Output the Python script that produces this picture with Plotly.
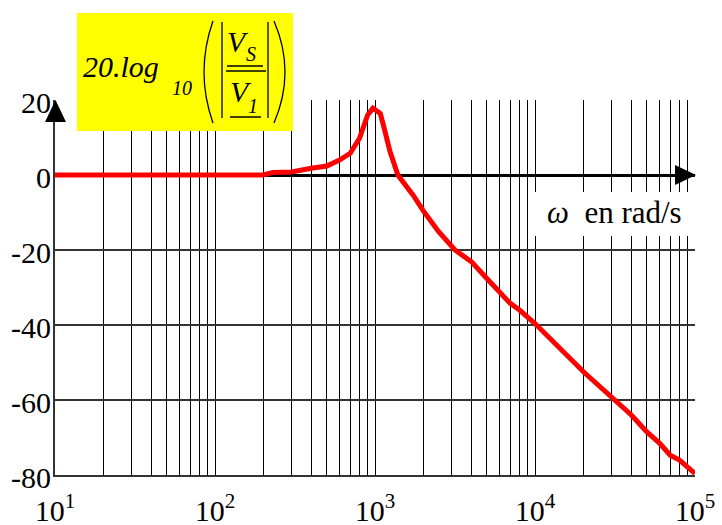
import plotly.graph_objects as go

# ---- data ----
omega = [10, 100, 200, 230, 300, 400, 500, 600, 700, 800, 900, 970, 1080, 1155,
         1240, 1390, 1740, 2000, 2500, 3160, 4000, 5000, 6000, 7000, 8000, 9000,
         10000, 20000, 30000, 40000, 50000, 60000, 70000, 80000, 100000]
gain_db = [0, 0, 0, 0.7, 0.8, 1.8, 2.4, 4.0, 5.8, 9.8, 16.0, 17.8, 16.4, 11.6,
           6.3, 0, -5.5, -9.5, -15.1, -20, -23.1, -27.6, -31.1, -34.2, -36, -37.8,
           -39.6, -52.4, -59, -64, -68.5, -71.5, -74.7, -76, -79.6]

x_grid = [m * 10 ** e for e in range(1, 5) for m in range(1, 10)] + [100000]
x_ticktext = ["10<sup>%d</sup>" % e if m == 1 else "" for e in range(1, 5) for m in range(1, 10)] + ["10<sup>5</sup>"]
y_ticks = [-80, -60, -40, -20, 0, 20]
y_ticktext = ["-80", "-60", "-40", "-20", "0", "20"]

W, H = 722, 525
L, R, T, B = 55, 695, 100, 475
FONT = "Liberation Serif"


def px(x):
    return (x - L) / (R - L)


def py(y):
    return (B - y) / (B - T)


fig = go.Figure()
fig.add_trace(go.Scatter(x=omega, y=gain_db, mode="lines",
                         line=dict(color="#ff0000", width=5), hoverinfo="skip"))

shapes = []
annotations = []

# yellow formula box
shapes.append(dict(type="rect", xref="paper", yref="paper", x0=px(77), x1=px(293),
                   y0=py(131), y1=py(13), fillcolor="#ffff00", line=dict(width=0), layer="above"))
# parentheses
shapes.append(dict(type="path", xref="paper", yref="paper",
                   path="M %f,%f Q %f,%f %f,%f" % (px(213), py(21), px(195), py(72), px(213), py(123)),
                   line=dict(color="black", width=1.3), layer="above"))
shapes.append(dict(type="path", xref="paper", yref="paper",
                   path="M %f,%f Q %f,%f %f,%f" % (px(274), py(21), px(296), py(72), px(274), py(123)),
                   line=dict(color="black", width=1.3), layer="above"))
# absolute value bars
for xb in (222, 268):
    shapes.append(dict(type="line", xref="paper", yref="paper", x0=px(xb), x1=px(xb),
                       y0=py(22), y1=py(118), line=dict(color="black", width=1.3), layer="above"))
# underline of V_S, fraction bar, underline of V_1
for (xa, xb, yy) in ((227, 263, 66), (226, 266, 71), (230, 261, 117)):
    shapes.append(dict(type="line", xref="paper", yref="paper", x0=px(xa), x1=px(xb),
                       y0=py(yy), y1=py(yy), line=dict(color="black", width=1.5), layer="above"))

# axis arrows
shapes.append(dict(type="path", xref="paper", yref="paper",
                   path="M %f,%f L %f,%f L %f,%f Z" % (px(55.5), py(100), px(45), py(122), px(66), py(122)),
                   fillcolor="black", line=dict(width=0), layer="above"))
shapes.append(dict(type="path", xref="paper", yref="paper",
                   path="M %f,%f L %f,%f L %f,%f Z" % (px(696), py(175), px(675), py(165), px(675), py(185)),
                   fillcolor="black", line=dict(width=0), layer="above"))

# white box for the omega label
shapes.append(dict(type="rect", xref="paper", yref="paper", x0=px(531), x1=px(693),
                   y0=py(236), y1=py(192), fillcolor="white", line=dict(width=0), layer="above"))


def txt(text, x, y, size):
    annotations.append(dict(text="<i>%s</i>" % text, xref="paper", yref="paper",
                            x=px(x), y=py(y), xanchor="left", yanchor="middle", showarrow=False,
                            font=dict(family=FONT, size=size, color="black")))


txt("20.log", 81, 66, 30)
txt("10", 170, 88, 20)
txt("V", 225, 42, 30)
txt("S", 244, 54, 20)
txt("V", 228, 92, 30)
txt("1", 246, 106, 20)
annotations.append(dict(text="<i>ω</i>  en rad/s", xref="paper", yref="paper",
                        x=px(545), y=py(212), xanchor="left", yanchor="middle", showarrow=False,
                        font=dict(family=FONT, size=31, color="black")))

fig.update_layout(
    width=W, height=H,
    margin=dict(l=L, r=W - R, t=T, b=H - B, pad=0),
    paper_bgcolor="white", plot_bgcolor="white",
    showlegend=False,
    font=dict(family=FONT, color="black"),
    shapes=shapes, annotations=annotations,
    xaxis=dict(type="log", range=[1, 5], tickvals=x_grid, ticktext=x_ticktext,
               showgrid=True, gridcolor="black", gridwidth=1, ticks="",
               showline=True, linecolor="#333333", linewidth=2, mirror=False,
               zeroline=False, automargin=False,
               tickfont=dict(family=FONT, size=30, color="black"), ticklabelstandoff=8),
    yaxis=dict(range=[-80, 20], tickvals=y_ticks, ticktext=y_ticktext,
               showgrid=True, gridcolor="#333333", gridwidth=1.6, ticks="",
               showline=True, linecolor="#333333", linewidth=2,
               zeroline=True, zerolinecolor="black", zerolinewidth=2.5, automargin=False,
               tickfont=dict(family=FONT, size=30, color="black"),
               ticklabelstandoff=-4, ticklabelshift=2),
)

fig.write_html("out.html", config=dict(displayModeBar=False),
               post_script="document.body.style.margin='0';")
